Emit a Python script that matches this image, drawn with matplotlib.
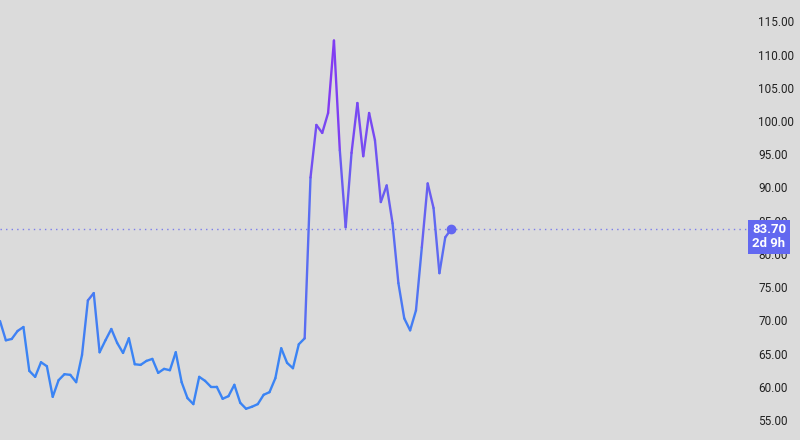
import numpy as np
import matplotlib
matplotlib.use("Agg")
import matplotlib.pyplot as plt
from matplotlib.collections import LineCollection
from matplotlib.colors import LinearSegmentedColormap, Normalize
import matplotlib.transforms as mtransforms

values = [
    69.9, 67.0, 67.2, 68.4, 69.0, 62.4, 61.5, 63.7, 63.1, 58.5,
    61.0, 61.9, 61.8, 60.7, 64.8, 73.0, 74.1, 65.2, 67.0, 68.7,
    66.6, 65.1, 67.3, 63.4, 63.3, 63.9, 64.2, 62.1, 62.7, 62.5,
    65.2, 60.7, 58.3, 57.4, 61.5, 60.9, 60.0, 60.0, 58.2, 58.6,
    60.3, 57.6, 56.7, 57.0, 57.4, 58.8, 59.2, 61.3, 65.8, 63.6,
    62.8, 66.4, 67.3, 91.5, 99.4, 98.2, 101.2, 112.1, 95.6, 84.0,
    95.2, 102.7, 94.7, 101.2, 97.1, 87.8, 90.3, 84.6, 75.6, 70.3,
    68.5, 71.5, 81.0, 90.6, 86.9, 77.1, 82.5, 83.7,
]
last_price = 83.70
last_label = "83.70"
time_left = "2d 9h"
y_ticks = [55, 60, 65, 70, 75, 80, 85, 90, 95, 100, 105, 110, 115]

bg = "#dbdbdb"
fig = plt.figure(figsize=(8, 4.4), dpi=100, facecolor=bg)
ax = fig.add_axes([0, 0, 747 / 800, 1], facecolor=bg)

x = np.arange(len(values))
y = np.array(values)
pts = np.column_stack([x, y]).reshape(-1, 1, 2)
segs = np.concatenate([pts[:-1], pts[1:]], axis=1)
mid = (y[:-1] + y[1:]) / 2
cmap = LinearSegmentedColormap.from_list(
    "bp", [(0.0, "#3b84f4"), (0.16, "#3b84f4"), (0.49, "#6366f1"), (1.0, "#8a30f2")])
norm = Normalize(vmin=57, vmax=112)
lc = LineCollection(segs, colors=cmap(norm(mid)), linewidths=1.7,
                    capstyle="round", joinstyle="round", zorder=3)
ax.add_collection(lc)

ax.plot([x[-1]], [y[-1]], "o", color="#6366f1", markersize=6, zorder=4)
ax.axhline(last_price, color="#6366f1", alpha=0.8, linestyle=(0, (1, 3)), linewidth=1.0, zorder=2)

ax.set_xlim(0, 127.5)
ax.set_ylim(52.0, 118.2)
ax.set_yticks(y_ticks)
ax.set_yticklabels([f"{t:.2f}" for t in y_ticks])
ax.yaxis.tick_right()
ax.tick_params(axis="y", length=0, pad=8, labelsize=8.5, labelcolor="#222222")
for lab in ax.get_yticklabels():
    lab.set_fontfamily("Roboto")
ax.set_xticks([])
for s in ax.spines.values():
    s.set_visible(False)

trans = mtransforms.blended_transform_factory(ax.transAxes, ax.transData)
t = ax.text(1.0, last_price, f"{last_label}\n{time_left}", transform=trans,
            ha="left", va="top", fontsize=9.5, fontweight="bold", color="white",
            family="Roboto", linespacing=1.1,
            bbox=dict(boxstyle="square,pad=0.28", facecolor="#6268f0", edgecolor="none"),
            clip_on=False, zorder=10)
t.set_transform(trans + mtransforms.ScaledTranslation(5 / 100, 6 / 100, fig.dpi_scale_trans))

fig.savefig("out.png", dpi=100, facecolor=bg)
